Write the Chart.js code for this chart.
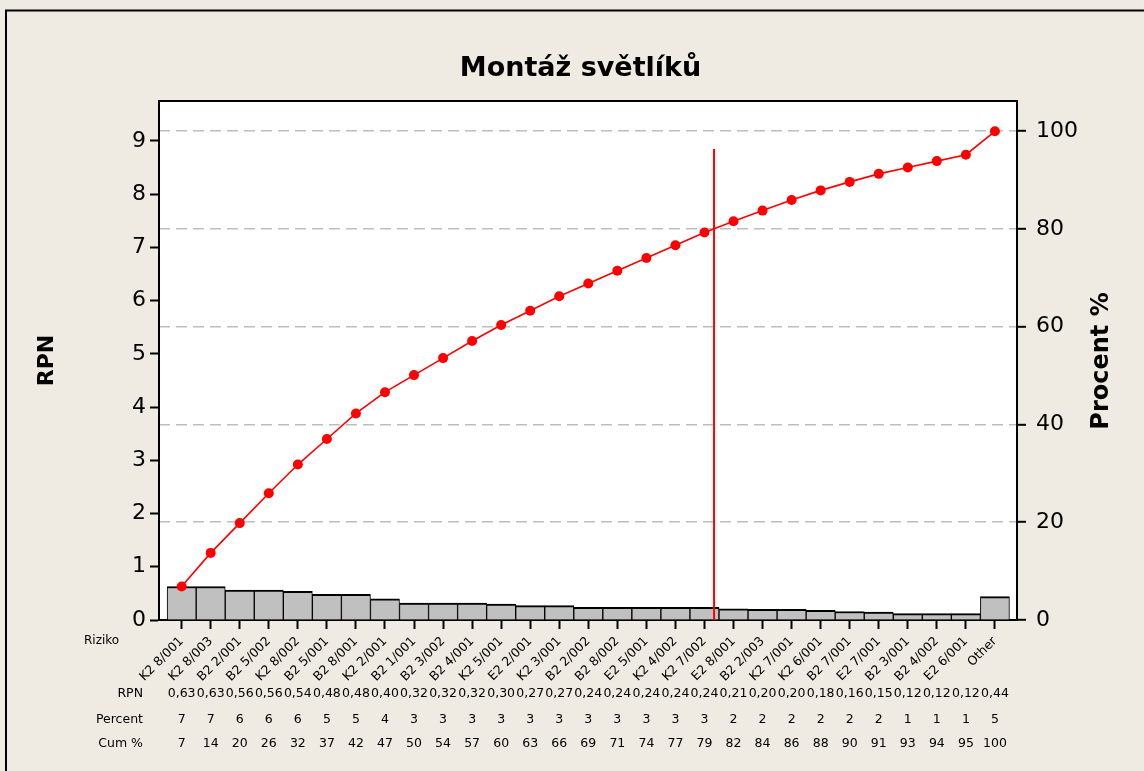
<!DOCTYPE html>
<html>
<head>
<meta charset="utf-8">
<script src="https://cdn.jsdelivr.net/npm/chart.js@4.4.1/dist/chart.umd.min.js"></script>
<style>
  html, body { margin: 0; padding: 0; background: #EFEBE2; }
  #wrap { width: 1144px; height: 771px; position: relative; }
  canvas { display: block; }
</style>
</head>
<body>
<div id="wrap"><canvas id="c" width="1144" height="771"></canvas></div>
<script>
// ---------- data ----------
const chartTitle = 'Montáž světlíků';
const categories = ['K2 8/001','K2 8/003','B2 2/001','B2 5/002','K2 8/002','B2 5/001','B2 8/001','K2 2/001',
  'B2 1/001','B2 3/002','B2 4/001','K2 5/001','E2 2/001','K2 3/001','B2 2/002','B2 8/002','E2 5/001',
  'K2 4/002','K2 7/002','E2 8/001','B2 2/003','K2 7/001','K2 6/001','B2 7/001','E2 7/001','B2 3/001',
  'B2 4/002','E2 6/001','Other'];
const rpnValues = [0.63,0.63,0.56,0.56,0.54,0.48,0.48,0.40,0.32,0.32,0.32,0.30,0.27,0.27,0.24,0.24,0.24,
  0.24,0.24,0.21,0.20,0.20,0.18,0.16,0.15,0.12,0.12,0.12,0.44];
const percentValues = [7,7,6,6,6,5,5,4,3,3,3,3,3,3,3,3,3,3,3,2,2,2,2,2,2,1,1,1,5];
const cumPercentLabels = [7,14,20,26,32,37,42,47,50,54,57,60,63,66,69,71,74,77,79,82,84,86,88,90,91,93,94,95,100];
const cumPercentLine = [6.86,13.73,19.83,25.93,31.81,37.04,42.27,46.62,50.11,53.59,57.08,60.35,63.29,66.23,
  68.85,71.46,74.07,76.69,79.30,81.59,83.77,85.95,87.91,89.65,91.29,92.59,93.90,95.21,100];
const cutoffPosition = 18.33;   // where the cumulative curve reaches 80 %
const cutoffTop = 8.85;         // top of the red cut-off line (RPN units)
const leftTicks = [0,1,2,3,4,5,6,7,8,9];
const rightTicks = [0,20,40,60,80,100];
const rowLabels = ['RPN','Percent','Cum %'];
const axisLabelLeft = 'RPN';
const axisLabelRight = 'Procent %';
const categoryAxisName = 'Riziko';

// ---------- layout / style ----------
const FONT = 'DejaVu Sans';
const PLOT = { left: 159, right: 1017, top: 101, bottom: 620 };
const W = 1144, H = 771;

const decorPlugin = {
  id: 'decor',
  beforeDraw(chart) {
    const { ctx, chartArea: a } = chart;
    ctx.save();
    ctx.fillStyle = '#EFEBE2';
    ctx.fillRect(0, 0, W, H);
    ctx.fillStyle = '#FFFFFF';
    ctx.fillRect(a.left, a.top, a.right - a.left, a.bottom - a.top);
    ctx.strokeStyle = '#000';
    ctx.lineWidth = 2;
    ctx.beginPath();
    ctx.moveTo(6, H); ctx.lineTo(6, 10.5); ctx.lineTo(W, 10.5);
    ctx.stroke();
    ctx.restore();
  },
  afterDraw(chart) {
    const { ctx, chartArea: a } = chart;
    const xs = chart.scales.x;
    ctx.save();
    // top border of the plot
    ctx.strokeStyle = '#000';
    ctx.lineWidth = 2;
    ctx.beginPath();
    ctx.moveTo(a.left - 1, a.top); ctx.lineTo(a.right + 1, a.top);
    ctx.stroke();
    // title
    ctx.fillStyle = '#000';
    ctx.font = 'bold 27px "' + FONT + '"';
    ctx.textAlign = 'center';
    ctx.textBaseline = 'alphabetic';
    ctx.fillText(chartTitle, 580.5, 76);
    // axis titles
    ctx.textBaseline = 'middle';
    ctx.font = 'bold 22px "' + FONT + '"';
    ctx.save();
    ctx.translate(47, 360.5); ctx.rotate(-Math.PI / 2);
    ctx.fillText(axisLabelLeft, 0, 0);
    ctx.restore();
    ctx.font = 'bold 24px "' + FONT + '"';
    ctx.save();
    ctx.translate(1102, 361); ctx.rotate(-Math.PI / 2);
    ctx.fillText(axisLabelRight, 0, 0);
    ctx.restore();
    // category axis name
    ctx.font = '12px "' + FONT + '"';
    ctx.textAlign = 'left';
    ctx.fillText(categoryAxisName, 84, 641);
    // table below the chart
    const rowY = [694, 720, 744];
    ctx.font = '12.5px "' + FONT + '"';
    ctx.textAlign = 'right';
    rowLabels.forEach((t, r) => ctx.fillText(t, 143, rowY[r]));
    ctx.textAlign = 'center';
    categories.forEach((c, i) => {
      const x = xs.getPixelForValue(i);
      ctx.fillText(rpnValues[i].toFixed(2).replace('.', ','), x, rowY[0]);
      ctx.fillText(String(percentValues[i]), x, rowY[1]);
      ctx.fillText(String(cumPercentLabels[i]), x, rowY[2]);
    });
    ctx.restore();
  }
};

const barData = rpnValues.map((v, i) => ({ x: i, y: v }));
const lineData = cumPercentLine.map((v, i) => ({ x: i, y: v }));
const cutoffData = [{ x: cutoffPosition, y: 0 }, { x: cutoffPosition, y: cutoffTop }];

new Chart(document.getElementById('c'), {
  type: 'bar',
  data: {
    datasets: [
      {
        type: 'line', label: 'Cum %', data: lineData, yAxisID: 'y2', order: 1,
        borderColor: '#FF0000', borderWidth: 1.6, backgroundColor: '#FF0000',
        pointRadius: 5, pointBorderWidth: 0, pointBackgroundColor: '#FF0000', tension: 0
      },
      {
        type: 'line', label: 'cutoff', data: cutoffData, yAxisID: 'y', order: 2,
        borderColor: '#FF0000', borderWidth: 2, pointRadius: 0
      },
      {
        type: 'bar', label: 'RPN', data: barData, yAxisID: 'y', order: 3,
        backgroundColor: '#C0C0C0', borderColor: '#000000',
        borderWidth: { top: 2, left: 1, right: 1, bottom: 0 }, borderSkipped: false,
        barPercentage: 1, categoryPercentage: 1
      }
    ]
  },
  options: {
    responsive: false,
    animation: false,
    devicePixelRatio: 1,
    layout: { padding: { top: PLOT.top, left: 0, right: 0, bottom: 0 } },
    plugins: { legend: { display: false }, tooltip: { enabled: false }, title: { display: false } },
    scales: {
      x: {
        type: 'linear', position: 'bottom', min: -0.78, max: 28.76, offset: false,
        afterBuildTicks: (s) => { s.ticks = categories.map((_, i) => ({ value: i })); },
        afterFit: (s) => { s.height = H - PLOT.bottom; },
        ticks: {
          autoSkip: false, minRotation: 45, maxRotation: 45, padding: 5,
          color: '#000', font: { family: FONT, size: 12.5 },
          callback: (v) => categories[v]
        },
        grid: { offset: false, drawOnChartArea: false, drawTicks: true, tickLength: 9, tickColor: '#000', tickWidth: 2 },
        border: { display: true, color: '#000', width: 2 }
      },
      y: {
        type: 'linear', position: 'left', min: 0, max: 9.75,
        afterBuildTicks: (s) => { s.ticks = leftTicks.map(v => ({ value: v })); },
        afterFit: (s) => { s.width = PLOT.left; },
        ticks: { color: '#000', padding: 4, font: { family: FONT, size: 22 } },
        grid: { drawOnChartArea: false, drawTicks: true, tickLength: 9, tickColor: '#000', tickWidth: 2 },
        border: { display: true, color: '#000', width: 2 }
      },
      y2: {
        type: 'linear', position: 'right', min: 0, max: 106.2,
        afterBuildTicks: (s) => { s.ticks = rightTicks.map(v => ({ value: v })); },
        afterFit: (s) => { s.width = W - PLOT.right; },
        ticks: { color: '#000', padding: 10, font: { family: FONT, size: 22 } },
        grid: {
          drawOnChartArea: true, drawTicks: true, tickLength: 9, tickColor: '#000', tickWidth: 2,
          color: (c) => (c.tick && c.tick.value === 0) ? 'rgba(0,0,0,0)' : '#BEBEBE', lineWidth: 1.6
        },
        border: { display: true, color: '#000', width: 2, dash: [11, 6] }
      }
    }
  },
  plugins: [decorPlugin]
});
</script>
</body>
</html>
